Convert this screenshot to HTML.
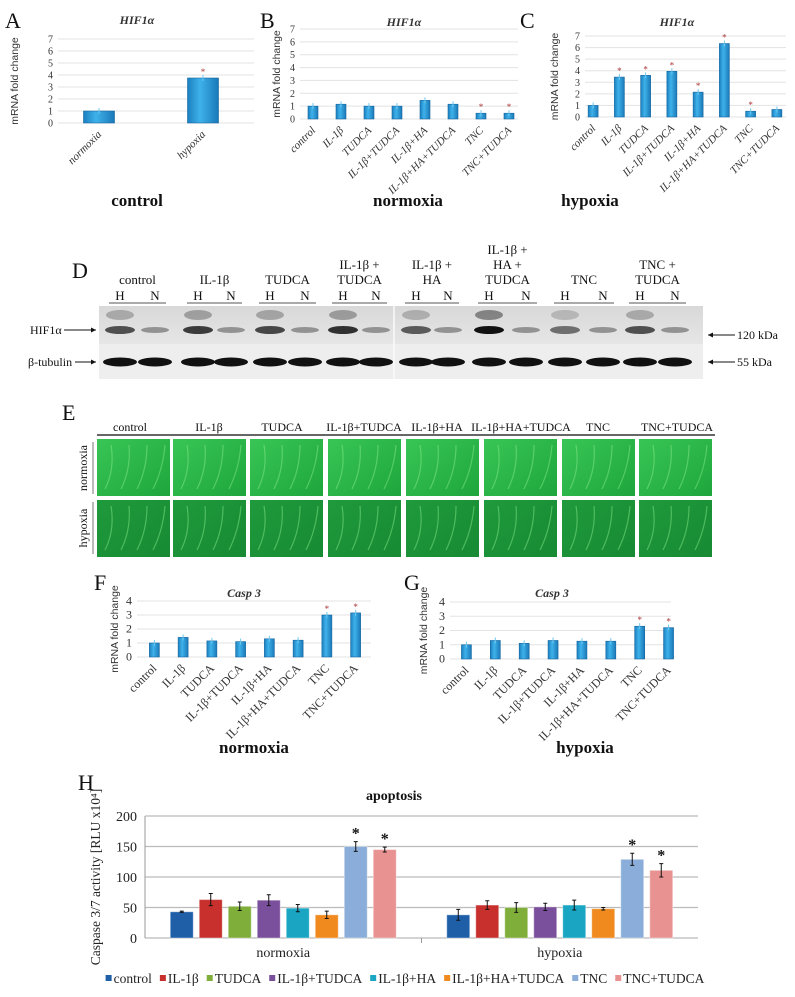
<!DOCTYPE html>
<html><head><meta charset="utf-8">
<style>
html,body{margin:0;padding:0;background:#fff;}
svg{display:block;font-family:"Liberation Serif",serif;}
.sans{font-family:"Liberation Sans",sans-serif;}
</style></head>
<body>
<svg id="fig" width="795" height="997" viewBox="0 0 795 997" xmlns="http://www.w3.org/2000/svg">
<defs>
<linearGradient id="gBlue" x1="0" x2="1" y1="0" y2="0"><stop offset="0" stop-color="#1b7fbf"/><stop offset="0.4" stop-color="#3fb2ea"/><stop offset="1" stop-color="#1a79b8"/></linearGradient>
<linearGradient id="gNorm" x1="0" x2="1" y1="0" y2="1"><stop offset="0" stop-color="#39c556"/><stop offset="1" stop-color="#1ea63c"/></linearGradient>
<linearGradient id="gHyp" x1="0" x2="1" y1="0" y2="1"><stop offset="0" stop-color="#1f9a3c"/><stop offset="1" stop-color="#178a33"/></linearGradient>
<linearGradient id="gBlot" x1="0" x2="0" y1="0" y2="1"><stop offset="0" stop-color="#d8d8d8"/><stop offset="1" stop-color="#e6e6e6"/></linearGradient>
</defs>
<g id="root"></g>
</svg>
<script>
const NS='http://www.w3.org/2000/svg';
const root=document.getElementById('root');
function mk(tag,attrs,parent,txt){const e=document.createElementNS(NS,tag);for(const k in attrs)e.setAttribute(k,attrs[k]);if(txt!==undefined)e.textContent=txt;(parent||root).appendChild(e);return e;}

// ---------- data ----------
const catsA=['normoxia','hypoxia'];
const hifA=[1.0,3.75];
const sigA=[0,1];
const cats8=['control','IL-1β','TUDCA','IL-1β+TUDCA','IL-1β+HA','IL-1β+HA+TUDCA','TNC','TNC+TUDCA'];
const hifB=[1.0,1.15,1.0,1.0,1.45,1.15,0.45,0.45];
const sigB=[0,0,0,0,0,0,1,1];
const hifC=[1.0,3.45,3.6,3.95,2.15,6.35,0.5,0.65];
const sigC=[0,1,1,1,1,1,1,0];
const hifTicks=[0,1,2,3,4,5,6,7];
const casF=[1.0,1.4,1.15,1.1,1.3,1.2,3.0,3.15];
const sigF=[0,0,0,0,0,0,1,1];
const casG=[1.0,1.3,1.1,1.3,1.25,1.25,2.3,2.2];
const sigG=[0,0,0,0,0,0,1,1];
const casTicks=[0,1,2,3,4];
const apoGroups=['normoxia','hypoxia'];
const apoNorm=[43,63,52,62,49,38,150,145];
const apoNormErr=[1,10,7,9,6,6,8,4];
const apoHyp=[38,54,50,51,54,48,129,111];
const apoHypErr=[9,7,8,6,8,2,10,11];
const apoSig=[0,0,0,0,0,0,1,1];
const apoTicks=[0,50,100,150,200];
const apoColors=['#1f5fa8','#c7302d','#7fae3a','#7a4f9c','#1aa6c2','#f08a1e','#8aaed9','#e89391'];

// ---------- small bar chart ----------
function smallChart(c){
  const g=mk('g',{});
  
  
  const yS=v=>c.y0-(v/c.max)*(c.y0-c.yTop);
  const step=(c.right-c.left)/c.cats.length;
  const xS=i=>c.left+step*(i+0.5);
  c.ticks.forEach(t=>{
    const ln=mk('line',{x1:c.gx0,x2:c.gx1,y1:yS(t),y2:yS(t),stroke:'#e3e3e3','stroke-width':1},g);
    
    
    const tx=mk('text',{x:c.gx0-5,y:yS(t)+3.5,'font-size':c.tfs||10,'text-anchor':'end',fill:'#333'},g,String(t));
    
    
  });
  c.vals.forEach((v,i)=>{
    const x=xS(i),w=c.bw;
    const r=mk('rect',{x:x-w/2,y:yS(v),width:w,height:c.y0-yS(v),fill:'url(#gBlue)',stroke:'#1767a0','stroke-width':0.6},g);
    
    
    mk('line',{x1:x,x2:x,y1:yS(v)-3,y2:yS(v)+3,stroke:'#6cc8f0','stroke-width':1},g);
    if(c.sig[i]){const s=mk('text',{x:x,y:yS(v)-3,'font-size':9,'text-anchor':'middle',fill:'#a33'},g,'*');
      
      }
    const lb=mk('text',{x:x+3,y:c.y0+12,'font-size':c.lfs||11,'font-style':c.upright?'normal':'italic','text-anchor':'end',fill:'#333',transform:`rotate(-45 ${x+3} ${c.y0+12})`},g,c.cats[i]);
    
    
  });
  const yl=mk('text',{x:c.ylx,y:(c.y0+c.yTop)/2,'font-size':10.5,'text-anchor':'middle',class:'sans',fill:'#333',transform:`rotate(-90 ${c.ylx} ${(c.y0+c.yTop)/2})`},g,'mRNA fold change');
  
  
  const tt=mk('text',{x:c.tx,y:c.ty,'font-size':12,'font-weight':'bold','font-style':'italic','text-anchor':'middle',fill:'#333'},g,c.title);
  
  
  const pl=mk('text',{x:c.px,y:c.py,'font-size':22,fill:'#111'},g,c.letter);
  
  
  const st=mk('text',{x:c.sx,y:c.sy,'font-size':17,'font-weight':'bold','text-anchor':'middle',fill:'#111'},g,c.sub);
  
  
}

smallChart({name:'chart-a-hif1a',cats:catsA,vals:hifA,sig:sigA,ticks:hifTicks,max:7,y0:123,yTop:39,left:47,right:255,gx0:58,gx1:254,bw:31,ylx:18,tx:137,ty:24,title:'HIF1α',letter:'A',px:5,py:28,sub:'control',sx:137,sy:206,lfs:11});
smallChart({name:'chart-b-hif1a',cats:cats8,vals:hifB,sig:sigB,ticks:hifTicks,max:7,y0:119,yTop:29,left:299,right:523,gx0:300,gx1:518,bw:10,ylx:280,tx:404,ty:26,title:'HIF1α',letter:'B',px:260,py:28,sub:'normoxia',sx:408,sy:206});
smallChart({name:'chart-c-hif1a',cats:cats8,vals:hifC,sig:sigC,ticks:hifTicks,max:7,y0:117,yTop:36,left:580,right:790,gx0:585,gx1:786,bw:10,ylx:558,tx:677,ty:26,title:'HIF1α',letter:'C',px:520,py:28,sub:'hypoxia',sx:590,sy:206});
smallChart({name:'chart-f-casp3',cats:cats8,vals:casF,sig:sigF,ticks:casTicks,max:4,y0:657,yTop:601,left:140,right:370,gx0:137,gx1:371,bw:10,ylx:118,tx:244,ty:597,title:'Casp 3',letter:'F',px:94,py:590,sub:'normoxia',sx:254,sy:753,lfs:12,tfs:12,upright:true});
smallChart({name:'chart-g-casp3',cats:cats8,vals:casG,sig:sigG,ticks:casTicks,max:4,y0:659,yTop:602,left:452,right:683,gx0:450,gx1:671,bw:10,ylx:427,tx:552,ty:597,title:'Casp 3',letter:'G',px:404,py:590,sub:'hypoxia',sx:585,sy:753,lfs:12,tfs:12,upright:true});

// ---------- Panel D: western blot ----------
(function(){
  const g=mk('g',{});
  
  
  const L=mk('text',{x:72,y:278,'font-size':22,fill:'#111'},g,'D');
  
  
  const heads=[['control'],['IL-1β'],['TUDCA'],['IL-1β +','TUDCA'],['IL-1β +','HA'],['IL-1β +','HA +','TUDCA'],['TNC'],['TNC +','TUDCA']];
  const lanesH=[120,198,270,343,416,489,565,640];
  const lanesN=[155,231,305,376,448,526,603,675];
  const hStrength=[0.55,0.65,0.6,0.7,0.5,0.95,0.4,0.55];
  mk('rect',{x:99,y:306,width:604,height:38,fill:'url(#gBlot)'},g);
  mk('rect',{x:99,y:344,width:604,height:35,fill:'#eeeeee'},g);
  mk('line',{x1:394,x2:394,y1:306,y2:379,stroke:'#fafafa','stroke-width':1.5},g);
  heads.forEach((h,i)=>{
    const cx=(lanesH[i]+lanesN[i])/2;
    const n=h.length;
    h.forEach((t,j)=>{const tx=mk('text',{x:cx,y:284-(n-1-j)*15,'font-size':13,'text-anchor':'middle',fill:'#111'},g,t);
      
      });
    mk('text',{x:lanesH[i],y:300,'font-size':13,'text-anchor':'middle',fill:'#111'},g,'H');
    mk('text',{x:lanesN[i],y:300,'font-size':13,'text-anchor':'middle',fill:'#111'},g,'N');
    mk('line',{x1:lanesH[i]-11,x2:lanesN[i]+11,y1:303,y2:303,stroke:'#555','stroke-width':1},g);
    const s=hStrength[i];
    mk('ellipse',{cx:lanesH[i],cy:315,rx:14,ry:5,fill:'#222','fill-opacity':s*0.5},g);
    mk('ellipse',{cx:lanesH[i],cy:330,rx:15,ry:4,fill:'#111','fill-opacity':Math.min(1,s+0.15)},g);
    mk('ellipse',{cx:lanesN[i],cy:330,rx:14,ry:3,fill:'#333','fill-opacity':0.45},g);
    mk('ellipse',{cx:lanesH[i],cy:362,rx:17,ry:4.5,fill:'#111'},g);
    mk('ellipse',{cx:lanesN[i],cy:362,rx:17,ry:4.5,fill:'#111'},g);
  });
  const a=mk('text',{x:30,y:334,'font-size':12,fill:'#111'},g,'HIF1α');
  
  
  mk('line',{x1:64,x2:96,y1:330,y2:330,stroke:'#111','stroke-width':1},g);
  mk('path',{d:'M96,330 l-5,-2.5 v5z',fill:'#111'},g);
  const b=mk('text',{x:28,y:366,'font-size':12,fill:'#111'},g,'β-tubulin');
  
  
  mk('line',{x1:75,x2:96,y1:362,y2:362,stroke:'#111','stroke-width':1},g);
  mk('path',{d:'M96,362 l-5,-2.5 v5z',fill:'#111'},g);
  mk('line',{x1:708,x2:735,y1:335,y2:335,stroke:'#111','stroke-width':1},g);
  mk('path',{d:'M708,335 l5,-2.5 v5z',fill:'#111'},g);
  const k1=mk('text',{x:737,y:339,'font-size':12,fill:'#111'},g,'120 kDa');
  
  
  mk('line',{x1:708,x2:735,y1:362,y2:362,stroke:'#111','stroke-width':1},g);
  mk('path',{d:'M708,362 l5,-2.5 v5z',fill:'#111'},g);
  const k2=mk('text',{x:737,y:366,'font-size':12,fill:'#111'},g,'55 kDa');
  
  
})();

// ---------- Panel E: microscopy ----------
(function(){
  const g=mk('g',{});
  
  
  const L=mk('text',{x:62,y:420,'font-size':22,fill:'#111'},g,'E');
  
  
  const colX=[97,173,250,328,406,484,562,639];
  const headX=[130,209,282,364,437,521,598,677];
  cats8.forEach((c,i)=>{
    const t=mk('text',{x:headX[i],y:431,'font-size':12,'text-anchor':'middle',fill:'#111'},g,c);
    
    
    [[439,'url(#gNorm)'],[500,'url(#gHyp)']].forEach(([y,f],r)=>{
      const im=mk('rect',{x:colX[i],y:y,width:73,height:57,fill:f},g);
      
      
      for(let k=0;k<4;k++){mk('path',{d:`M${colX[i]+8+k*16},${y+50} q10,-20 ${6+k*2},-44`,stroke:'#8ef08e','stroke-opacity':0.45,'stroke-width':1.2,fill:'none'},g);}
    });
  });
  mk('line',{x1:97,x2:715,y1:435,y2:435,stroke:'#333','stroke-width':1.5},g);
  [['normoxia',468],['hypoxia',528]].forEach(([t,y])=>{
    const e=mk('text',{x:87,y:y,'font-size':12,'text-anchor':'middle',fill:'#111',transform:`rotate(-90 87 ${y})`},g,t);
    
    
    mk('line',{x1:93,x2:93,y1:y-26,y2:y+26,stroke:'#555','stroke-width':0.8},g);
  });
})();

// ---------- Panel H: apoptosis ----------
(function(){
  const g=mk('g',{});
  
  
  const x0=145,x1=698,y0=938,yTop=816,max=200;
  const yS=v=>y0-(v/max)*(y0-yTop);
  const L=mk('text',{x:78,y:790,'font-size':22,fill:'#111'},g,'H');
  
  
  const t=mk('text',{x:394,y:800,'font-size':14,'font-weight':'bold','text-anchor':'middle',fill:'#111'},g,'apoptosis');
  
  
  apoTicks.forEach(v=>{
    mk('line',{x1:x0,x2:x1,y1:yS(v),y2:yS(v),stroke:'#bbb','stroke-width':1.2},g);
    const tl=mk('text',{x:x0-8,y:yS(v)+5,'font-size':14,'text-anchor':'end',fill:'#222'},g,String(v));
    
    
  });
  mk('line',{x1:x0,x2:x0,y1:yTop,y2:y0,stroke:'#999'},g);
  const gw=(x1-x0)/2;
  mk('line',{x1:x0+gw,x2:x0+gw,y1:y0,y2:y0+5,stroke:'#999'},g);
  const yl=mk('text',{x:100,y:877,'font-size':13.5,'text-anchor':'middle',fill:'#222',transform:'rotate(-90 100 877)'},g,'Caspase 3/7 activity [RLU x10⁴]');
  
  
  const step=29,bw=23;
  [[apoNorm,apoNormErr],[apoHyp,apoHypErr]].forEach(([vals,errs],gi)=>{
    const gc=x0+gw*(gi+0.5);
    const cl=mk('text',{x:gc,y:957,'font-size':14,'text-anchor':'middle',fill:'#222'},g,apoGroups[gi]);
    
    
    vals.forEach((v,i)=>{
      const cx=gc+(i-3.5)*step;
      const r=mk('rect',{x:cx-bw/2,y:yS(v),width:bw,height:y0-yS(v),fill:apoColors[i],stroke:'#fff','stroke-opacity':0.4},g);
      
      
      const e=errs[i];
      mk('path',{d:`M${cx},${yS(v+e)}V${yS(v-e)}M${cx-2},${yS(v+e)}h4M${cx-2},${yS(v-e)}h4`,stroke:'#111','stroke-width':1,fill:'none'},g);
      if(apoSig[i]){const s=mk('text',{x:cx,y:yS(v+e)-3,'font-size':16,'font-weight':'bold','text-anchor':'middle',fill:'#111'},g,'*');
        
        }
    });
  });
  // legend laid out sequentially
  const legG=mk('g',{},g);
  
  
  const items=[];
  let lx=0;
  cats8.forEach((c,i)=>{
    const lg=mk('g',{},legG);
    
    
    const r=mk('rect',{x:lx,y:975,width:6,height:6,fill:apoColors[i]},lg);
    const tx=mk('text',{x:lx+8,y:983,'font-size':13.5,fill:'#222'},lg,c);
    const w=tx.getComputedTextLength();
    items.push([r,tx]);
    lx+=8+w+8;
  });
  const total=lx-8;
  const off=108+((702-108)-total)/2;
  legG.setAttribute('transform',`translate(${off},0)`);
})();
</script>
</body></html>
